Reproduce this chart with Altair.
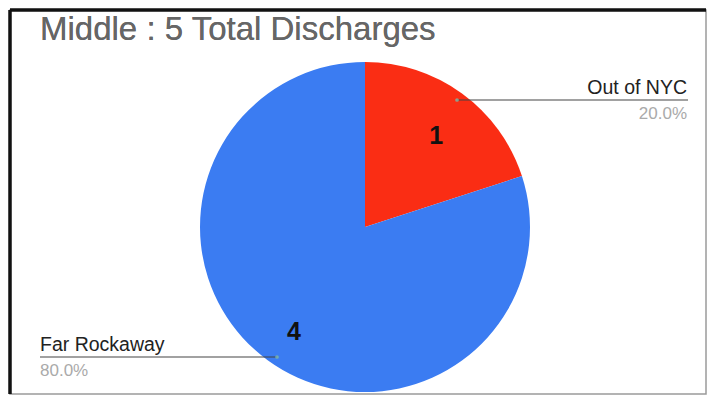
import altair as alt
import pandas as pd

categories = ["Out of NYC", "Far Rockaway"]
counts = [1, 4]
slice_colors = ["#FA2D14", "#3B7CF2"]
title_text = "Middle : 5 Total Discharges"

total = sum(counts)
df = pd.DataFrame({
    "category": categories,
    "count": counts,
    "order": list(range(len(categories))),
    "pct": [f"{c / total * 100:.1f}%" for c in counts],
})

CX, CY, R = 355, 217, 165
base = alt.Chart(df)

theta = alt.Theta("count:Q", stack=True)
order = alt.Order("order:Q")

pie = base.mark_arc(outerRadius=R).encode(
    theta=theta,
    order=order,
    color=alt.Color("category:N", scale=alt.Scale(domain=categories, range=slice_colors), legend=None),
    x=alt.value(CX), y=alt.value(CY),
)

nums = base.mark_text(radius=121, dy=7, fontSize=25, fontWeight="bold", color="#111",
                      font="Liberation Sans").encode(
    theta=theta, order=order, text="count:Q",
    x=alt.value(CX), y=alt.value(CY),
)

def leader(cat, x1, x2, y):
    return base.transform_filter(alt.datum.category == cat).mark_rule(
        color="#444", strokeWidth=1.2).encode(
        x=alt.value(x1), x2=alt.value(x2), y=alt.value(y))

def dot(cat, x, y):
    return base.transform_filter(alt.datum.category == cat).mark_point(
        filled=True, size=14, color="#7fb8a8", opacity=0.8).encode(
        x=alt.value(x), y=alt.value(y))

def label(cat, field, x, y, align, size, color):
    return base.transform_filter(alt.datum.category == cat).mark_text(
        align=align, baseline="alphabetic", fontSize=size, color=color,
        font="Liberation Sans").encode(
        text=f"{field}:N", x=alt.value(x), y=alt.value(y))

layers = [
    pie, nums,
    leader("Out of NYC", 447, 678, 90),
    leader("Far Rockaway", 30, 267, 347),
    dot("Out of NYC", 447, 90),
    dot("Far Rockaway", 267, 347),
    label("Out of NYC", "category", 677, 84, "right", 19.5, "#222"),
    label("Out of NYC", "pct", 677, 109, "right", 17, "#aaa"),
    label("Far Rockaway", "category", 30, 341, "left", 19.5, "#222"),
    label("Far Rockaway", "pct", 30, 366, "left", 17, "#aaa"),
    base.mark_text(align="left", baseline="alphabetic", fontSize=33, color="#666",
                   font="Liberation Sans").encode(
        text=alt.value(title_text), x=alt.value(30), y=alt.value(30)),
    base.mark_rule(color="#111", strokeWidth=3).encode(
        x=alt.value(0), x2=alt.value(696), y=alt.value(0)),
    base.mark_rule(color="#111", strokeWidth=3).encode(
        x=alt.value(0), y=alt.value(0), y2=alt.value(384)),
]

chart = alt.layer(*layers).properties(
    width=696, height=384,
    padding={"left": 10, "top": 10, "right": 3, "bottom": 2},
    autosize=alt.AutoSizeParams(type="none"),
    background="white",
).configure_view(stroke="#9a9a9a", strokeWidth=1.5)

chart.save("out.html", embed_options={"renderer": "svg", "actions": False})
